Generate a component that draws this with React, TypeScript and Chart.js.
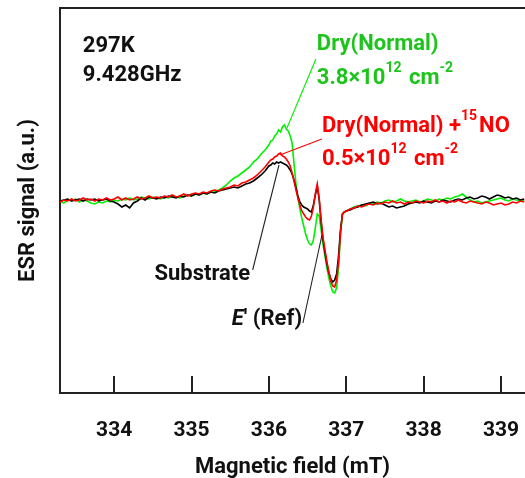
import React, { useEffect, useRef } from "react";
import { Chart, registerables } from "chart.js";
Chart.register(...registerables);

// Magnetic field (mT)
const field = [
  333.30, 333.35, 333.40, 333.45, 333.50, 333.55, 333.60, 333.65, 333.70, 333.75,
  333.80, 333.85, 333.90, 333.95, 334.00, 334.05, 334.10, 334.15, 334.20, 334.25,
  334.30, 334.35, 334.40, 334.45, 334.50, 334.55, 334.60, 334.65, 334.70, 334.75,
  334.80, 334.85, 334.90, 334.95, 335.00, 335.05, 335.10, 335.15, 335.20, 335.25,
  335.30, 335.35, 335.40, 335.45, 335.50, 335.55, 335.60, 335.65, 335.70, 335.75,
  335.80, 335.85, 335.90, 335.95,
  336.000, 336.025, 336.050, 336.075, 336.100, 336.125, 336.150, 336.175, 336.200, 336.225,
  336.250, 336.275, 336.300, 336.325, 336.350, 336.375, 336.400, 336.425, 336.450, 336.475,
  336.500, 336.525, 336.550, 336.575, 336.600, 336.625, 336.650, 336.675, 336.700, 336.725,
  336.750, 336.775, 336.800, 336.825, 336.850, 336.875, 336.900, 336.925, 336.950, 336.975,
  337.000,
  337.05, 337.10, 337.15, 337.20, 337.25, 337.30, 337.35, 337.40, 337.45, 337.50,
  337.55, 337.60, 337.65, 337.70, 337.75, 337.80, 337.85, 337.90, 337.95, 338.00,
  338.05, 338.10, 338.15, 338.20, 338.25, 338.30, 338.35, 338.40, 338.45, 338.50,
  338.55, 338.60, 338.65, 338.70, 338.75, 338.80, 338.85, 338.90, 338.95, 339.00,
  339.05, 339.10, 339.15, 339.20, 339.25, 339.30,
];

// ESR signal (a.u.) — Dry(Normal), green
const dryNormal = [
  -1, -3, 0, -1, 1, -2, 0, -1, -3, -4,
  -2, -3, -1, -2, 0, -1, 1, 0, 2, 0,
  1, 3, 2, 1, 3, 2, 1, 3, 2, 4,
  3, 2, 4, 5, 4, 6, 5, 7, 6, 8,
  8, 10, 12, 15, 19, 22, 24, 27, 30, 33,
  38, 41, 46, 50,
  55, 59, 60, 64, 66, 70, 68, 73, 75, 71,
  69, 64, 57, 36, 16, 2, -9, -18, -26, -34,
  -40, -44, -45, -40, -28, -14, -16, -30, -45, -56,
  -68, -78, -86, -92, -93, -88, -68, -35, -15, -12,
  -11,
  -9, -7, -6, -5, -6, -3, -4, -2, -3, -1,
  0, -2, -1, 1, -1, -2, -1, 0, -2, -1,
  1, 0, -1, 1, 0, 2, 1, 3, 4, 6,
  3, 0, -2, -1, -3, -2, -1, 0, 1, 2,
  0, -1, 1, 0, -1, 0,
];

// Dry(Normal) + 15NO, red
const dryNO = [
  -2, 0, -1, 1, -1, 0, 2, 0, 1, -1,
  1, 0, 2, 0, 1, 3, 0, 2, 0, 1,
  3, 1, 2, 4, 2, 3, 2, 4, 3, 5,
  3, 4, 6, 4, 6, 7, 6, 8, 7, 9,
  10, 9, 11, 12, 13, 15, 14, 17, 18, 20,
  22, 25, 29, 33,
  38, 40, 41, 43, 44, 46, 47, 44, 43, 41,
  38, 34, 27, 19, 10, 2, -5, -11, -14, -17,
  -19, -20, -16, -7, 6, 16, 2, -20, -38, -50,
  -62, -72, -81, -86, -87, -80, -62, -33, -14, -12,
  -11,
  -9, -8, -6, -7, -5, -4, -5, -3, -4, -2,
  -3, -1, -3, -2, -4, -2, -3, -1, -2, -3,
  -1, -2, 0, -2, -1, -3, -1, -2, 0, -2,
  -3, -1, -2, -3, -4, -2, -3, -5, -4, -3,
  -5, -4, -2, -3, -1, -2,
];

// Substrate, black
const substrate = [
  -1, 0, 1, -1, 0, 1, -1, 1, 0, 1,
  -1, 0, 1, -1, -2, -4, -7, -5, -8, -3,
  -1, 2, 0, 3, 2, 1, 3, 2, 4, 3,
  2, 4, 3, 5, 4, 6, 5, 7, 6, 8,
  7, 9, 10, 11, 12, 13, 12, 14, 16, 17,
  19, 22, 25, 29,
  34, 35, 37, 36, 38, 37, 38, 37, 36, 35,
  33, 30, 26, 20, 12, 4, -2, -5, -7, -8,
  -9, -11, -12, -5, 5, 14, 0, -22, -40, -53,
  -64, -73, -79, -82, -80, -74, -56, -30, -14, -12,
  -11,
  -10, -8, -7, -5, -4, -3, -2, -4, -3, -5,
  -7, -6, -8, -7, -6, -4, -3, -2, -3, -1,
  -2, -3, -1, -2, 0, -1, -2, 0, 1, 0,
  2, 3, 1, 2, 4, 3, 1, 3, 5, 4,
  2, 3, 1, 2, 0, 1,
];

// x-axis tick labels
const xTicks = [334, 335, 336, 337, 338, 339];

const xMin = 333.3;
const xMax = 339.31;
const yMin = -193;
const yMax = 192;

const FONT = "Roboto, 'Liberation Sans', sans-serif";
const GREEN_LINE = "#00f000";
const GREEN_TEXT = "#1cc41c";
const RED = "#ff0000";
const INK = "#111111";

type Part = { t: string; sup?: boolean; italic?: boolean };
type Label = { parts: Part[]; at: [number, number]; color: string };
type Leader = { from: [number, number]; to: [number, number]; color: string };

const labels: Label[] = [
  { parts: [{ t: "297K" }], at: [333.595, 148], color: INK },
  { parts: [{ t: "9.428GHz" }], at: [333.595, 119], color: INK },
  { parts: [{ t: "Dry(Normal)" }], at: [336.62, 150], color: GREEN_TEXT },
  {
    parts: [{ t: "3.8×10" }, { t: "12", sup: true }, { t: " cm" }, { t: "-2", sup: true }],
    at: [336.62, 116],
    color: GREEN_TEXT,
  },
  {
    parts: [{ t: "Dry(Normal) +" }, { t: "15", sup: true }, { t: "NO" }],
    at: [336.685, 68],
    color: RED,
  },
  {
    parts: [{ t: "0.5×10" }, { t: "12", sup: true }, { t: " cm" }, { t: "-2", sup: true }],
    at: [336.685, 35],
    color: RED,
  },
  { parts: [{ t: "Substrate" }], at: [334.52, -80], color: INK },
  { parts: [{ t: "E", italic: true }, { t: "' (Ref)" }], at: [335.52, -125], color: INK },
];

const leaders: Leader[] = [
  { from: [336.608, 141], to: [336.233, 72], color: GREEN_LINE },
  { from: [336.685, 61], to: [336.142, 45], color: RED },
  { from: [335.79, -70], to: [336.13, 35], color: "#222222" },
  { from: [336.44, -123], to: [336.686, -35], color: "#222222" },
];

const inwardTicks = {
  id: "inwardTicks",
  afterDraw(chart: any) {
    const { ctx } = chart;
    const xs = chart.scales.x;
    const base = chart.chartArea.bottom;
    ctx.save();
    ctx.strokeStyle = "#222222";
    ctx.lineWidth = 2;
    for (const t of xs.ticks) {
      const px = Math.round(xs.getPixelForValue(t.value));
      ctx.beginPath();
      ctx.moveTo(px, base);
      ctx.lineTo(px, base - 17);
      ctx.stroke();
    }
    ctx.restore();
  },
};

const annotations = {
  id: "annotations",
  afterDatasetsDraw(chart: any) {
    const { ctx } = chart;
    const xs = chart.scales.x;
    const ys = chart.scales.y;
    ctx.save();
    for (const l of leaders) {
      ctx.strokeStyle = l.color;
      ctx.lineWidth = 1.1;
      ctx.beginPath();
      ctx.moveTo(xs.getPixelForValue(l.from[0]), ys.getPixelForValue(l.from[1]));
      ctx.lineTo(xs.getPixelForValue(l.to[0]), ys.getPixelForValue(l.to[1]));
      ctx.stroke();
    }
    ctx.textBaseline = "alphabetic";
    ctx.textAlign = "left";
    const size = 22;
    for (const lab of labels) {
      let x = xs.getPixelForValue(lab.at[0]);
      const y = ys.getPixelForValue(lab.at[1]);
      ctx.fillStyle = lab.color;
      for (const p of lab.parts) {
        const s = p.sup ? 14 : size;
        ctx.font = `${p.italic ? "italic " : ""}bold ${s}px ${FONT}`;
        ctx.fillText(p.t, x, p.sup ? y - 12 : y);
        x += ctx.measureText(p.t).width + (p.sup ? 2 : 0);
      }
    }
    ctx.restore();
  },
};

export default function App() {
  const ref = useRef<HTMLCanvasElement>(null);
  useEffect(() => {
    const canvas = ref.current!;
    const mk = (vals: number[]) => field.map((x, i) => ({ x, y: vals[i] }));
    const chart = new Chart(canvas, {
      type: "line",
      data: {
        datasets: [
          { label: "Dry(Normal) + 15NO", data: mk(dryNO), borderColor: RED, borderWidth: 1.6, pointRadius: 0, tension: 0, fill: false },
          { label: "Substrate", data: mk(substrate), borderColor: "#000000", borderWidth: 1.6, pointRadius: 0, tension: 0, fill: false },
          { label: "Dry(Normal)", data: mk(dryNormal), borderColor: GREEN_LINE, borderWidth: 1.6, pointRadius: 0, tension: 0, fill: false },
        ],
      },
      options: {
        responsive: false,
        animation: false,
        devicePixelRatio: 1,
        layout: { padding: 0 },
        plugins: { legend: { display: false }, tooltip: { enabled: false } },
        scales: {
          x: {
            type: "linear",
            position: "bottom",
            min: xMin,
            max: xMax,
            afterFit: (s: any) => { s.height = 85; s.paddingLeft = 0; s.paddingRight = 0; },
            afterBuildTicks: (s: any) => { s.ticks = xTicks.map((v) => ({ value: v })); },
            grid: { display: false },
            border: { display: true, color: "#222222", width: 2 },
            ticks: {
              padding: 17,
              color: INK,
              maxRotation: 0,
              minRotation: 0,
              autoSkip: false,
              callback: (v: any) => String(v),
              font: { family: FONT, weight: "bold", size: 21 },
            },
            title: {
              display: true,
              text: "Magnetic field (mT)",
              color: INK,
              font: { family: FONT, weight: "bold", size: 22, lineHeight: 1 },
              padding: { top: 0, bottom: 0 },
            },
          },
          xTop: {
            type: "linear",
            position: "top",
            min: xMin,
            max: xMax,
            afterFit: (s: any) => { s.height = 8; s.paddingLeft = 0; s.paddingRight = 0; },
            grid: { display: false },
            ticks: { display: false },
            border: { display: true, color: "#222222", width: 2 },
          },
          y: {
            type: "linear",
            position: "left",
            min: yMin,
            max: yMax,
            afterFit: (s: any) => { s.width = 60; s.paddingTop = 0; s.paddingBottom = 0; },
            grid: { display: false },
            ticks: { display: false },
            border: { display: true, color: "#222222", width: 2 },
            title: {
              display: true,
              text: "ESR signal (a.u.)",
              color: INK,
              font: { family: FONT, weight: "bold", size: 22, lineHeight: 1 },
              padding: { top: 17, bottom: 0 },
            },
          },
        },
      } as any,
      plugins: [inwardTicks, annotations],
    });
    return () => chart.destroy();
  }, []);
  return (
    <div style={{ position: "fixed", left: 0, top: 0, width: 525, height: 478, background: "#fff" }}>
      <canvas ref={ref} width={525} height={478} style={{ display: "block", width: 525, height: 478 }} />
    </div>
  );
}
